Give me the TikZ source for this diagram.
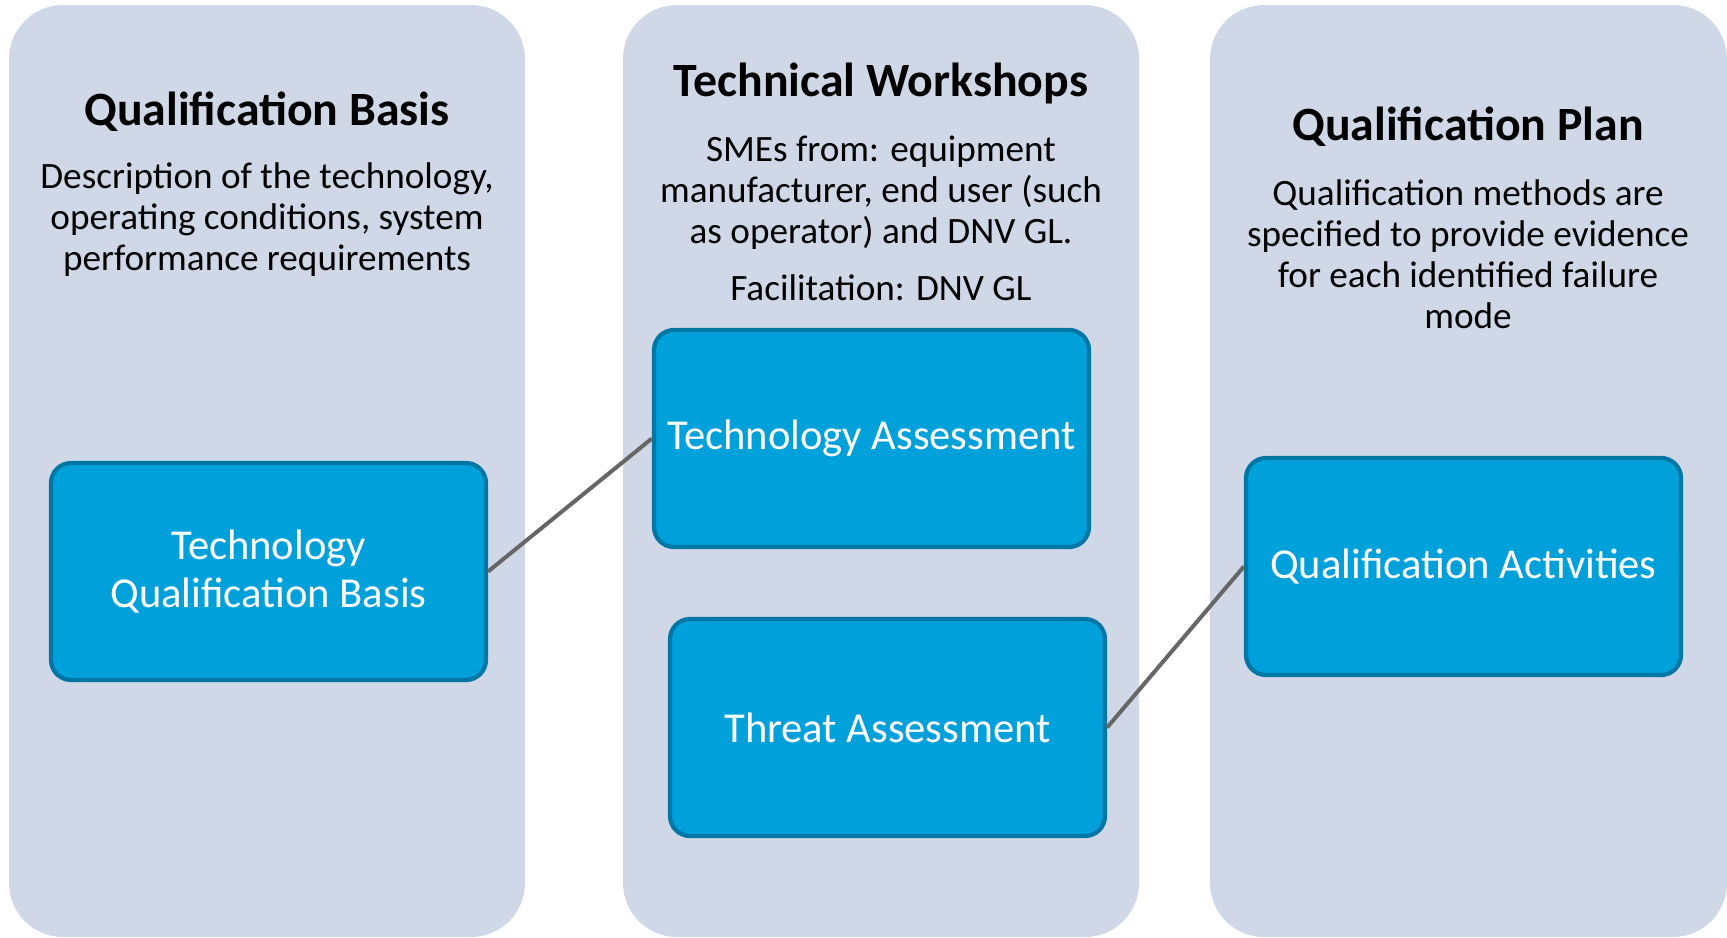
\documentclass[tikz,border=0pt]{standalone}
\usepackage{fontspec}
\setmainfont{Carlito}
\definecolor{panelfill}{RGB}{208,216,232}
\definecolor{boxfill}{RGB}{0,160,218}
\definecolor{boxedge}{RGB}{0,118,164}
\definecolor{linkgray}{RGB}{102,102,102}
\begin{document}
\begin{tikzpicture}[x=0.5pt,y=-0.5pt,
  panel/.style={fill=panelfill,rounded corners=27pt},
  titletext/.style={font=\bfseries\fontsize{23.9}{28}\selectfont,text=black,inner sep=0pt},
  bodytext/.style={font=\fontsize{18.6}{20.5}\selectfont,text=black,align=center,inner sep=0pt},
  stepbox/.style={draw=boxedge,fill=boxfill,line width=2.1pt,rounded corners=10pt,
    minimum width=217.5pt,minimum height=108.5pt,inner sep=0pt,align=center,
    text=white,font=\fontsize{21.3}{23.7}\selectfont},
  link/.style={draw=linkgray,line width=2pt}]
\useasboundingbox (0,0) rectangle (1727,937);
% column backgrounds
\fill[panel] (9,5) rectangle (525,937);
\fill[panel] (623,5) rectangle (1139,937);
\fill[panel] (1210,5) rectangle (1727,937);
% column headings and descriptions
\node[titletext] (t1) at (267,112) {Qualification Basis};
\node[bodytext] (d1) at (267,220) {Description of the technology,\\operating conditions, system\\performance requirements};
\node[titletext] (t2) at (881,83) {Technical Workshops};
\node[bodytext] (d2) at (881,218) {SMEs from: equipment\\manufacturer, end user (such\\as operator) and DNV GL.\\[8pt]Facilitation: DNV GL};
\node[titletext] (t3) at (1468,127) {Qualification Plan};
\node[bodytext] (d3) at (1468,254) {Qualification methods are\\specified to provide evidence\\for each identified failure\\mode};
% process boxes
\node[stepbox] (tqb) at (268.5,571.5) {Technology\\Qualification Basis};
\node[stepbox] (ta) at (871.5,438.5) {Technology Assessment};
\node[stepbox] (thr) at (887.5,727.5) {Threat Assessment};
\node[stepbox] (qa) at (1463.5,566.5) {Qualification Activities};
% connectors
\draw[link] (tqb.east) -- (ta.west);
\draw[link] (thr.east) -- (qa.west);
\end{tikzpicture}
\end{document}
